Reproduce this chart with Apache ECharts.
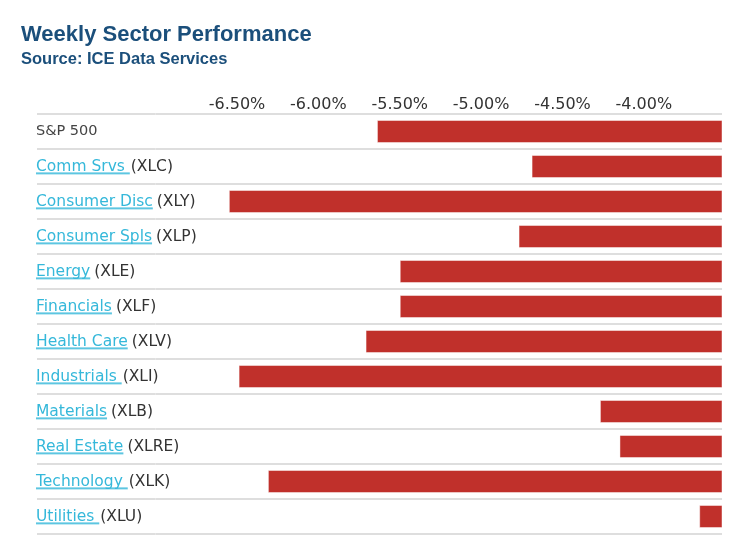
<!DOCTYPE html>
<html>
<head>
<meta charset="utf-8">
<script src="https://cdn.jsdelivr.net/npm/echarts@6/dist/echarts.min.js"></script>
<style>
html,body{margin:0;padding:0;background:#fff;}
#chart{width:738px;height:549px;}
</style>
</head>
<body>
<div id="chart"></div>
<script>
// ---- data ----
var categories = ['S&P 500','Comm Srvs','Consumer Disc','Consumer Spls','Energy','Financials','Health Care','Industrials','Materials','Real Estate','Technology','Utilities'];
var linkTexts = ['', 'Comm Srvs ', 'Consumer Disc', 'Consumer Spls', 'Energy', 'Financials', 'Health Care', 'Industrials ', 'Materials', 'Real Estate', 'Technology ', 'Utilities '];
var tickers = ['', '(XLC)', '(XLY)', '(XLP)', '(XLE)', '(XLF)', '(XLV)', '(XLI)', '(XLB)', '(XLRE)', '(XLK)', '(XLU)'];
var weeklyChange = [-5.64, -4.69, -6.55, -4.77, -5.50, -5.50, -5.71, -6.49, -4.27, -4.15, -6.31, -3.66];
var axisMin = -7.0, axisMax = -3.52, axisStep = 0.5;

// underline image for link-style text
var ul = document.createElement('canvas');
ul.width = 4; ul.height = 16;
var ctx = ul.getContext('2d');
ctx.fillStyle = '#35b8da';
ctx.fillRect(0, 14, 4, 1.6);

var chart = echarts.init(document.getElementById('chart'), null, {renderer: 'canvas'});
var gridColor = '#dedede';
var option = {
  backgroundColor: '#ffffff',
  animation: false,
  title: {
    text: 'Weekly Sector Performance',
    subtext: 'Source: ICE Data Services',
    left: 21, top: 24, padding: 0, itemGap: 5,
    textStyle: {fontFamily: 'Liberation Sans, Arial, sans-serif', fontSize: 22, fontWeight: 'bold', color: '#1b4f7b'},
    subtextStyle: {fontFamily: 'Liberation Sans, Arial, sans-serif', fontSize: 16.5, fontWeight: 'bold', color: '#1b4f7b'}
  },
  grid: {left: 155.6, right: 16, top: 114, bottom: 15, containLabel: false},
  xAxis: {
    type: 'value', position: 'top',
    min: axisMin, max: axisMax, interval: axisStep,
    axisLine: {show: false}, axisTick: {show: false}, splitLine: {show: false},
    axisLabel: {
      showMinLabel: false, showMaxLabel: false, margin: 1,
      fontFamily: 'DejaVu Sans', fontSize: 16, color: '#333',
      formatter: function (v) { return v.toFixed(2) + '%'; }
    }
  },
  yAxis: {
    type: 'category', inverse: true, data: categories,
    axisLine: {show: false},
    axisTick: {show: true, interval: 0, length: 118.6, lineStyle: {color: gridColor, width: 2}},
    splitLine: {show: true, interval: 0, lineStyle: {color: gridColor, width: 2}},
    axisLabel: {
      interval: 0, align: 'left', margin: 119.6,
      formatter: function (v, i) {
        if (!linkTexts[i]) return '{sp|' + v + '}';
        var sty = /\s$/.test(linkTexts[i]) ? 'tk2' : 'tk';
        return '{lk|' + linkTexts[i] + '}{' + sty + '|' + tickers[i] + '}';
      },
      rich: {
        sp: {fontFamily: 'DejaVu Sans', fontSize: 14.5, color: '#444', lineHeight: 16},
        lk: {fontFamily: 'DejaVu Sans', fontSize: 15.5, color: '#35b8da', lineHeight: 16, backgroundColor: {image: ul}},
        tk: {fontFamily: 'DejaVu Sans', fontSize: 15.5, color: '#333', lineHeight: 16, padding: [0, 0, 0, 4]},
        tk2: {fontFamily: 'DejaVu Sans', fontSize: 15.5, color: '#333', lineHeight: 16, padding: [0, 0, 0, 1]}
      }
    }
  },
  series: [{
    type: 'bar', data: weeklyChange, barWidth: 23, clip: true,
    itemStyle: {color: '#c0302b', borderColor: 'rgba(255,255,255,0.45)', borderWidth: 1}
  }]
};
chart.setOption(option);
</script>
</body>
</html>
